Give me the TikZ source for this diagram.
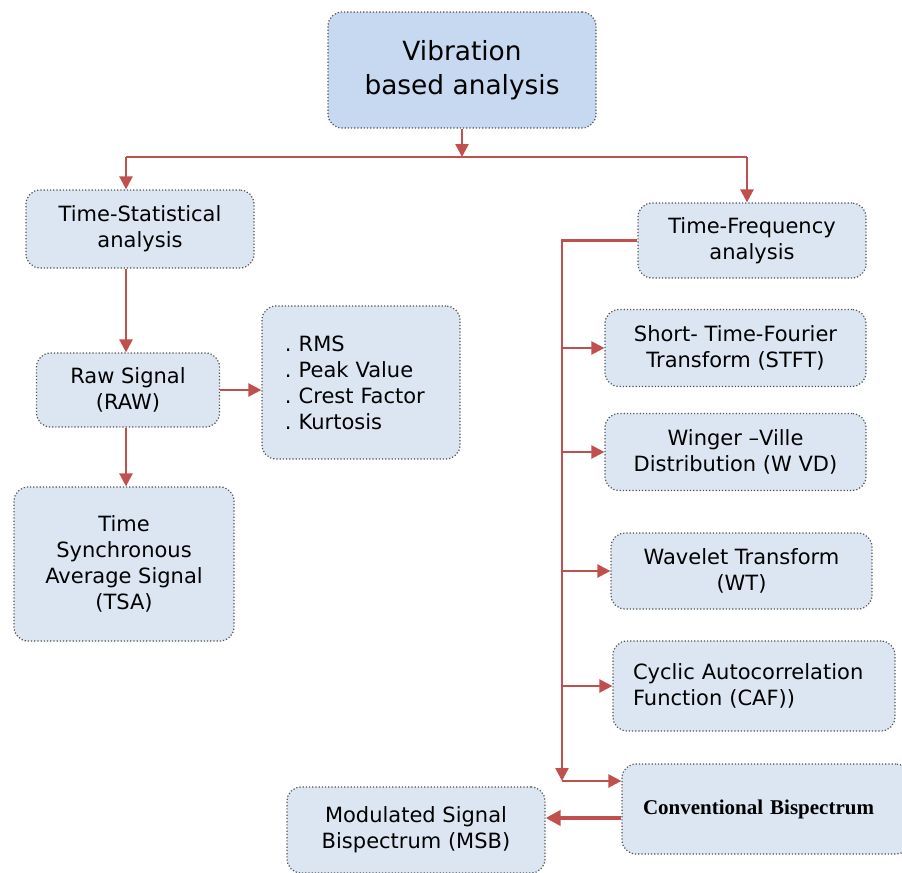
\documentclass[tikz,border=0pt]{standalone}
\usepackage{fontspec}
\setmainfont{DejaVu Sans}
\newfontfamily\serifbf{Liberation Serif}
\usetikzlibrary{arrows.meta}

\definecolor{boxfill}{HTML}{DCE6F2}
\definecolor{topfill}{HTML}{C6D9F1}
\definecolor{linkred}{HTML}{C0504D}
\definecolor{boxline}{HTML}{505050}

\begin{document}
\begin{tikzpicture}[x=0.5pt,y=-0.5pt]
    \tikzstyle{block}=[draw=boxline,densely dotted,line width=0.6pt,fill=boxfill,rounded corners=7pt,align=center,inner sep=0pt,font=\fontsize{10.5}{13}\selectfont]
    \tikzstyle{link}=[draw=linkred,line width=1.2pt,-{Triangle[length=6.5pt,width=6.5pt]}]

    \useasboundingbox (0,0) rectangle (902,873);

    % root
    \node[block,fill=topfill,minimum width=134pt,minimum height=58pt,font=\fontsize{13.2}{17}\selectfont] (root) at (462,70) {Vibration\\based analysis};

    % left branch
    \node[block,minimum width=114pt,minimum height=39pt] (stat) at (140,229) {Time-Statistical\\analysis};
    \node[block,minimum width=91.5pt,minimum height=37pt] (raw) at (128,390) {Raw Signal\\(RAW)};
    \node[block,minimum width=99pt,minimum height=76.5pt,align=left,text width=76pt,inner xsep=11.5pt] (feat) at (361,382.5) {.\ RMS\\.\ Peak Value\\.\ Crest Factor\\.\ Kurtosis};
    \node[block,minimum width=110pt,minimum height=77pt] (tsa) at (124,564) {Time\\Synchronous\\Average Signal\\(TSA)};

    % right branch
    \node[block,minimum width=114pt,minimum height=37.5pt] (freq) at (752,240.5) {Time-Frequency\\analysis};
    \node[block,minimum width=130.5pt,minimum height=38.5pt] (stft) at (735.5,348) {Short- Time-Fourier\\Transform (STFT)};
    \node[block,minimum width=130.5pt,minimum height=38.5pt] (wvd) at (735.5,452) {Winger --Ville\\Distribution (W VD)};
    \node[block,minimum width=130.5pt,minimum height=38pt] (wt) at (741.5,571) {Wavelet Transform\\(WT)};
    \node[block,minimum width=141pt,minimum height=45pt,align=left,text width=121pt,inner xsep=10pt] (caf) at (754,686) {Cyclic Autocorrelation\\Function (CAF))};
    \node[block,minimum width=144pt,minimum height=45pt,align=left,text width=123pt,inner xsep=10.5pt,font=\serifbf\bfseries\fontsize{10.5}{13}\selectfont] (conv) at (766,809) {Conventional Bispectrum};
    \node[block,minimum width=129pt,minimum height=43pt] (msb) at (416,830) {Modulated Signal\\Bispectrum (MSB)};

    \coordinate (split) at (462,157);
    \coordinate (lft) at (126,157);
    \coordinate (rgt) at (747,157);
    \coordinate (bus) at (562,240.5);
    \coordinate (busend) at (562,781);

    % top split
    \draw[link] (root) -- (split);
    \draw[draw=linkred,line width=1.2pt] (lft) -- (rgt);
    \draw[link] (lft) -- (lft |- stat.north);
    \draw[link] (rgt) -- (rgt |- freq.north);

    % statistical chain
    \draw[link] (lft |- stat.south) -- (lft |- raw.north);
    \draw[link] (lft |- raw.south) -- (lft |- tsa.north);
    \draw[link] (raw.east) -- (raw.east -| feat.west);

    % time-frequency bus
    \draw[link] (freq.west) -- (bus) -- (busend);
    \foreach \n in {stft,wvd,wt,caf}
        \draw[link] (bus |- \n.west) -- (\n.west);
    \draw[link] (busend) -- (busend -| conv.west);
    \draw[link,line width=2pt,-{Triangle[length=7.5pt,width=7.5pt]}] ([yshift=-4.5pt]conv.west) -- ([yshift=-4.5pt]conv.west -| msb.east);
\end{tikzpicture}
\end{document}
